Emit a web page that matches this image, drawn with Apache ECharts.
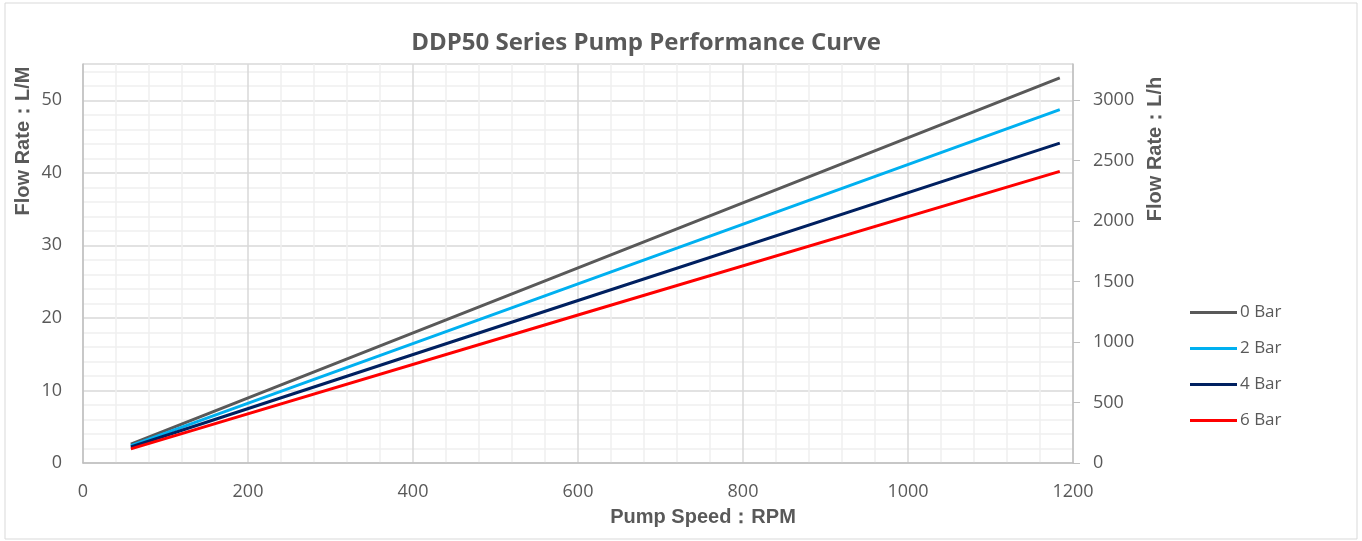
<!DOCTYPE html>
<html>
<head>
<meta charset="utf-8">
<script src="https://cdn.jsdelivr.net/npm/echarts@6/dist/echarts.min.js"></script>
<style>
  html, body { margin: 0; padding: 0; background: #fff; }
  #chart { width: 1362px; height: 541px; }
</style>
</head>
<body>
<div id="chart"></div>
<script>
// pump speed (RPM) where each curve is sampled
const speeds = [58, 600, 1184];
// flow rate (L/M) per pressure
const bar0 = [2.6, 26.9, 53.1];
const bar2 = [2.4, 24.7, 48.7];
const bar4 = [2.2, 22.4, 44.1];
const bar6 = [1.95, 20.4, 40.2];
const seriesNames = ['0 Bar', '2 Bar', '4 Bar', '6 Bar'];
const seriesColors = ['#595959', '#00B0F0', '#002060', '#FF0000'];

const textColor = '#595959';
const font = '"Open Sans", "Noto Sans", sans-serif';
const nameFont = 'bold 20px "Liberation Sans", Arial, sans-serif';

function pairs(ys) {
  return speeds.map((x, i) => [x, ys[i]]);
}
const plain = v => String(v);
const tickText = { fontFamily: font, fontSize: 18, color: textColor, formatter: plain };

const chart = echarts.init(document.getElementById('chart'));
chart.setOption({
  animation: false,
  textStyle: { fontFamily: font, color: textColor },
  legend: {
    orient: 'vertical',
    left: 1190,
    top: 304,
    padding: 0,
    itemWidth: 47,
    itemHeight: 3,
    itemGap: 19,
    icon: 'rect',
    textStyle: { fontFamily: font, fontSize: 17, color: textColor, padding: [0, 0, 0, -2] },
    data: seriesNames
  },
  grid: { left: 83, right: 289, top: 64, bottom: 78 },
  xAxis: {
    type: 'value',
    min: 0,
    max: 1200,
    interval: 200,
    axisLine: { show: true, lineStyle: { color: '#BFBFBF', width: 1.5 } },
    axisTick: { show: false },
    axisLabel: Object.assign({ margin: 20 }, tickText),
    splitLine: { show: true, lineStyle: { color: '#D9D9D9', width: 1.5 } },
    minorTick: { show: false, splitNumber: 5 },
    minorSplitLine: { show: true, lineStyle: { color: '#F0F0F0', width: 1.5 } }
  },
  yAxis: [
    {
      type: 'value',
      min: 0,
      max: 55,
      interval: 10,
      axisLine: { show: true, lineStyle: { color: '#BFBFBF', width: 1.5 } },
      axisTick: { show: false },
      axisLabel: Object.assign({ margin: 21, showMaxLabel: false }, tickText),
      splitLine: { show: true, lineStyle: { color: '#D9D9D9', width: 1.5 } },
      minorTick: { show: false, splitNumber: 5 },
      minorSplitLine: { show: true, lineStyle: { color: '#F0F0F0', width: 1.5 } }
    },
    {
      type: 'value',
      position: 'right',
      min: 0,
      max: 3300,
      interval: 500,
      axisLine: { show: true, lineStyle: { color: '#BFBFBF', width: 1.5 } },
      axisTick: { show: true, inside: false, length: 7, lineStyle: { color: '#BFBFBF' } },
      axisLabel: Object.assign({ margin: 20, showMaxLabel: false }, tickText),
      splitLine: { show: false }
    }
  ],
  graphic: [
    {
      type: 'rect',
      silent: true,
      shape: { x: 5, y: 3, width: 1352, height: 536 },
      style: { fill: 'none', stroke: '#D9D9D9', lineWidth: 1 }
    },
    {
      type: 'text',
      x: 646, y: 43,
      style: {
        text: 'DDP50 Series Pump Performance Curve', fill: textColor,
        font: 'bold 24px ' + font, align: 'center', verticalAlign: 'middle'
      }
    },
    {
      type: 'text',
      x: 23, y: 141,
      rotation: Math.PI / 2,
      style: {
        text: 'Flow Rate：L/M', fill: textColor, font: nameFont,
        align: 'center', verticalAlign: 'middle'
      }
    },
    {
      type: 'text',
      x: 1155, y: 149,
      rotation: Math.PI / 2,
      style: {
        text: 'Flow Rate：L/h', fill: textColor, font: nameFont,
        align: 'center', verticalAlign: 'middle'
      }
    },
    {
      type: 'text',
      x: 703, y: 517,
      style: {
        text: 'Pump Speed：RPM', fill: textColor, font: nameFont,
        align: 'center', verticalAlign: 'middle'
      }
    }
  ],
  series: [bar0, bar2, bar4, bar6].map((ys, i) => ({
    name: seriesNames[i],
    type: 'line',
    yAxisIndex: 0,
    data: pairs(ys),
    showSymbol: false,
    symbol: 'none',
    color: seriesColors[i],
    lineStyle: { width: 3, color: seriesColors[i] }
  }))
});
</script>
</body>
</html>
